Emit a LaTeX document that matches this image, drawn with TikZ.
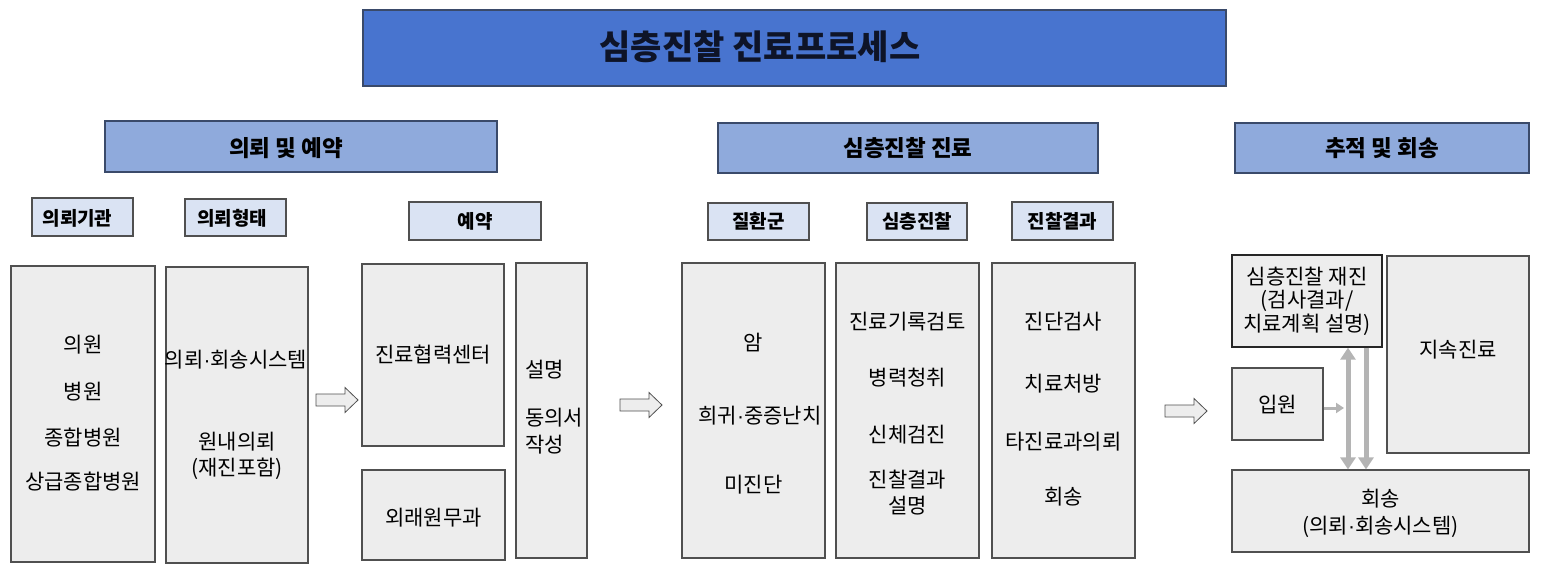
\documentclass[tikz,border=0pt]{standalone}
\usepackage{fontspec}
\setmainfont{Noto Sans CJK KR}
\newfontfamily\latinfont{Liberation Sans}
\newcommand\kdot{{\latinfont ·}}
\usetikzlibrary{arrows.meta}
\definecolor{titlefill}{HTML}{4874CF}
\definecolor{titleline}{HTML}{3A4A6A}
\definecolor{secfill}{HTML}{8FAADC}
\definecolor{subfill}{HTML}{DAE3F3}
\definecolor{boxfill}{HTML}{EDEDED}
\definecolor{boxline}{HTML}{505050}
\definecolor{arrowgray}{HTML}{B4B4B4}
\definecolor{titletext}{HTML}{0E1428}
\tikzset{
  titlebox/.style={draw=titleline, line width=1.6pt, fill=titlefill, inner sep=0pt},
  titlelabel/.style={inner sep=0pt, text=titletext, font=\fontsize{34}{40}\selectfont\bfseries},
  secbox/.style={draw=titleline, line width=1.2pt, fill=secfill, inner sep=0pt,
    font=\fontsize{22.5}{26}\selectfont\bfseries},
  seclabel/.style={inner sep=0pt, font=\fontsize{22.5}{26}\selectfont\bfseries},
  subbox/.style={draw=boxline, line width=1.2pt, fill=subfill, inner sep=0pt,
    font=\fontsize{19}{22}\selectfont\bfseries},
  sublabel/.style={inner sep=0pt, font=\fontsize{19}{22}\selectfont\bfseries},
  bigbox/.style={draw=boxline, line width=1.2pt, fill=boxfill, inner sep=0pt},
  darkbox/.style={bigbox, draw=black!85, line width=1.4pt},
  txt/.style={inner sep=0pt, align=center, font=\fontsize{21}{25}\selectfont},
  garrow/.style={draw=arrowgray, line width=5pt},
  harrow/.pic={\draw[draw=boxline, fill=boxfill, line width=0.8pt, line join=miter]
     (0,-6) -- (29,-6) -- (29,-12.5) -- (42,0) -- (29,12.5) -- (29,6) -- (0,6) -- cycle;}
}
\begin{document}
\begin{tikzpicture}[x=1pt,y=-1pt]
\useasboundingbox (0,0) rectangle (1543,579);
\fill[white] (0,0) rectangle (1543,579);

% title and section bars
\node[titlebox, minimum width=863pt, minimum height=76pt] (title) at (794.5,48) {};
\node[titlelabel] (titletxt) at (760,47) {심층진찰 진료프로세스};
\node[secbox, minimum width=392pt, minimum height=51pt] (sec1) at (301,146.5) {};
\node[seclabel] (sec1txt) at (286,148) {의뢰 및 예약};
\node[secbox, minimum width=380pt, minimum height=50pt] (sec2) at (908,148) {심층진찰 진료};
\node[secbox, minimum width=294pt, minimum height=50pt] (sec3) at (1382,148) {추적 및 회송};

% sub headers
\node[subbox, minimum width=101pt, minimum height=38pt] (sub1) at (82.5,217) {};
\node[sublabel] (sub1txt) at (77.5,218) {의뢰기관};
\node[subbox, minimum width=101pt, minimum height=37pt] (sub2) at (235.5,217.5) {};
\node[sublabel] (sub2txt) at (232,218.5) {의뢰형태};
\node[subbox, minimum width=132pt, minimum height=38pt] (sub3) at (475,221) {예약};
\node[subbox, minimum width=101pt, minimum height=37pt] (sub4) at (758.5,221.5) {질환군};
\node[subbox, minimum width=100pt, minimum height=37pt] (sub5) at (917,221.5) {심층진찰};
\node[subbox, minimum width=101pt, minimum height=38pt] (sub6) at (1062.5,221) {진찰결과};

% big boxes
\node[bigbox, minimum width=144pt, minimum height=296pt] (b1) at (83,414) {};
\node[bigbox, minimum width=142pt, minimum height=296pt] (b2) at (237,415) {};
\node[bigbox, minimum width=142pt, minimum height=182pt] (b3) at (433,355) {};
\node[bigbox, minimum width=143pt, minimum height=90pt] (b4) at (433.5,515) {};
\node[bigbox, minimum width=71pt, minimum height=295pt] (b5) at (551.5,410.5) {};
\node[bigbox, minimum width=143pt, minimum height=295pt] (b6) at (753.5,410.5) {};
\node[bigbox, minimum width=143pt, minimum height=295pt] (b7) at (907.5,410.5) {};
\node[bigbox, minimum width=143pt, minimum height=295pt] (b8) at (1063.5,410.5) {};
\node[darkbox, minimum width=150pt, minimum height=92pt] (r1) at (1307,301) {};
\node[bigbox, minimum width=142pt, minimum height=197pt] (r2) at (1458,354.5) {};
\node[bigbox, minimum width=91pt, minimum height=72pt] (r3) at (1277.5,404) {};
\node[bigbox, minimum width=297pt, minimum height=82pt] (r4) at (1380.5,511) {};

% texts
\node[txt] (t11) at (83,345) {의원};
\node[txt] (t12) at (83,392) {병원};
\node[txt] (t13) at (83,438) {종합병원};
\node[txt] (t14) at (83,482) {상급종합병원};

\node[txt] (t21) at (236,360) {의뢰\kdot 회송시스템};
\node[txt] (t22) at (237,442) {원내의뢰};
\node[txt] (t23) at (237,469) {(재진포함)};

\node[txt] (t31) at (433,355) {진료협력센터};
\node[txt] (t41) at (433.5,518) {외래원무과};

\node[txt, anchor=west] (t51) at (525,370) {설명};
\node[txt, anchor=west] (t52) at (525,418) {동의서};
\node[txt, anchor=west] (t53) at (525,445) {작성};

\node[txt] (t61) at (753.5,343) {암};
\node[txt] (t62) at (760,416) {희귀\kdot 중증난치};
\node[txt] (t63) at (753.5,485) {미진단};

\node[txt] (t71) at (907.5,322) {진료기록검토};
\node[txt] (t72) at (907.5,378) {병력청취};
\node[txt] (t73) at (907.5,435) {신체검진};
\node[txt] (t74) at (907.5,480) {진찰결과};
\node[txt] (t75) at (907.5,506) {설명};

\node[txt] (t81) at (1063.5,322) {진단검사};
\node[txt] (t82) at (1063.5,384) {치료처방};
\node[txt] (t83) at (1063.5,442) {타진료과의뢰};
\node[txt] (t84) at (1063.5,497) {회송};

\node[txt] (tr11) at (1307,277) {심층진찰 재진};
\node[txt] (tr12) at (1307,301) {(검사결과/};
\node[txt] (tr13) at (1307,325) {치료계획 설명)};
\node[txt] (tr21) at (1458,350) {지속진료};
\node[txt] (tr31) at (1277.5,405) {입원};
\node[txt] (tr41) at (1380.5,499) {회송};
\node[txt] (tr42) at (1380.5,527) {(의뢰\kdot 회송시스템)};

% hollow block arrows
\pic at (316,400) {harrow};
\pic at (620,405) {harrow};
\pic at (1165,411) {harrow};

% gray connectors
\draw[garrow, {Triangle[width=15pt,length=12pt]}-{Triangle[width=15pt,length=12pt]}]
  (1348,0 |- r1.south) -- (1348,0 |- r4.north);
\draw[garrow, -{Triangle[width=15pt,length=12pt]}]
  (1366,0 |- r1.south) -- (1366,0 |- r4.north);
\draw[draw=arrowgray, line width=3pt, -{Triangle[width=10pt,length=8pt]}]
  (r3.east |- 0,408) -- (1344,408);
\end{tikzpicture}
\end{document}
